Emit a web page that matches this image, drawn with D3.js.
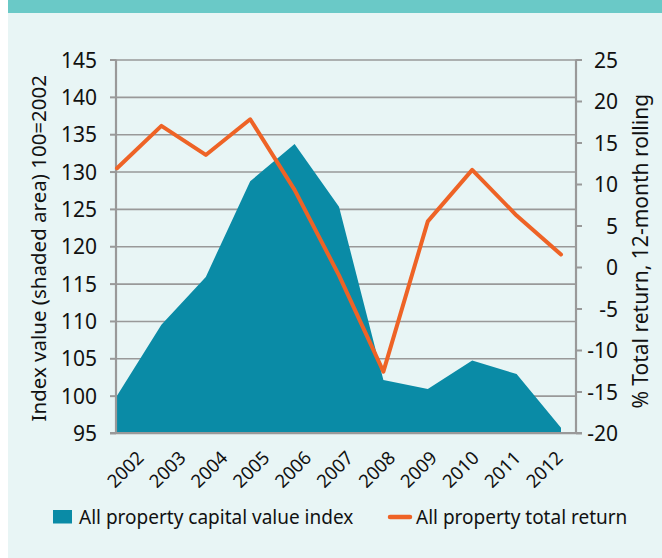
<!DOCTYPE html>
<html lang="en">
<head>
<meta charset="utf-8">
<title>All property capital value index and total return</title>
<script src="https://d3js.org/d3.v7.min.js"></script>
<style>
body { margin: 0; background: #ffffff; }
svg text { font-family: "Noto Sans", "Open Sans", sans-serif; fill: #111; }
.axis path { display: none; }
.axis line { stroke: #999999; stroke-width: 2; }
</style>
</head>
<body>
<div id="chart"></div>
<script>

// chart data
var years = ["2002","2003","2004","2005","2006","2007","2008","2009","2010","2011","2012"];
var capitalIndex = [100, 109.5, 115.9, 128.7, 133.7, 125.3, 102.1, 100.9, 104.7, 102.9, 95.7];
var totalReturn = [11.9, 17.0, 13.5, 17.8, 9.3, -1.0, -12.6, 5.5, 11.7, 6.2, 1.5];
var leftTicks = [95, 100, 105, 110, 115, 120, 125, 130, 135, 140, 145];
var rightTicks = [-20, -15, -10, -5, 0, 5, 10, 15, 20, 25];
var legendLabels = ["All property capital value index", "All property total return"];

var W = 662, H = 558;
var plot = {left: 116, right: 576, top: 59.5, bottom: 433};

var svg = d3.select("#chart").append("svg")
    .attr("width", W)
    .attr("height", H);

// panel background + header strip
svg.append("rect").attr("x", 8).attr("y", 0).attr("width", W - 8).attr("height", H).attr("fill", "#e8f5f5");
svg.append("rect").attr("x", 8).attr("y", 0).attr("width", W - 8).attr("height", 13).attr("fill", "#6ac9c7");

// scales
var x = d3.scalePoint().domain(years).range([117, 561]);
var xLabel = d3.scalePoint().domain(years).range([145, 564]);
var yL = d3.scaleLinear().domain([95, 145]).range([plot.bottom, plot.top]);
var yR = d3.scaleLinear().domain([-20, 25]).range([plot.bottom, plot.top]);

// gridlines
svg.append("g")
    .attr("class", "axis")
    .attr("transform", "translate(" + plot.left + ",0)")
    .call(d3.axisRight(yL).tickValues(leftTicks).tickSize(plot.right - plot.left).tickFormat(""))
    .selectAll("line")
    .style("stroke-width", 1.6);

// shaded area
var area = d3.area()
    .x(function(d, i) { return x(years[i]); })
    .y0(yL(95))
    .y1(function(d) { return yL(d); });

svg.append("path")
    .datum(capitalIndex)
    .attr("d", area)
    .attr("fill", "#0a8ba6");

// axes
var gl = svg.append("g")
    .attr("class", "axis")
    .attr("transform", "translate(" + plot.left + ",0)")
    .call(d3.axisLeft(yL).tickValues(leftTicks).tickSize(6).tickPadding(13));
gl.selectAll("text").style("font-size", "21px").attr("dy", "0.36em");

var gr = svg.append("g")
    .attr("class", "axis")
    .attr("transform", "translate(" + plot.right + ",0)")
    .call(d3.axisRight(yR).tickValues(rightTicks).tickSize(6).tickFormat(function(d) { return String(d); }));
gr.selectAll("text")
    .style("font-size", "21px")
    .attr("dy", "0.36em")
    .attr("text-anchor", "end")
    .attr("x", 42);

// axis frame lines
svg.append("line").attr("x1", plot.left).attr("x2", plot.left).attr("y1", plot.top).attr("y2", plot.bottom)
    .attr("stroke", "#999").attr("stroke-width", 2.2);
svg.append("line").attr("x1", plot.right).attr("x2", plot.right).attr("y1", plot.top).attr("y2", plot.bottom)
    .attr("stroke", "#999").attr("stroke-width", 2.2);
svg.append("line").attr("x1", plot.left - 6).attr("x2", plot.right + 6).attr("y1", plot.bottom).attr("y2", plot.bottom)
    .attr("stroke", "#999").attr("stroke-width", 2.2);

// total return line
var line = d3.line()
    .x(function(d, i) { return x(years[i]); })
    .y(function(d) { return yR(d); });

svg.append("path")
    .datum(totalReturn)
    .attr("d", line)
    .attr("fill", "none")
    .attr("stroke", "#ee6326")
    .attr("stroke-width", 4)
    .attr("stroke-linejoin", "round")
    .attr("stroke-linecap", "round");

// year labels
svg.append("g").selectAll("text")
    .data(years)
    .enter().append("text")
    .attr("transform", function(d) { return "translate(" + xLabel(d) + ",459) rotate(-45)"; })
    .attr("text-anchor", "end")
    .style("font-size", "18.5px")
    .text(function(d) { return d; });

// axis titles
svg.append("text")
    .attr("transform", "translate(46," + ((plot.top + plot.bottom) / 2 + 2) + ") rotate(-90)")
    .attr("text-anchor", "middle")
    .style("font-size", "20.5px")
    .text("Index value (shaded area) 100=2002");

svg.append("text")
    .attr("transform", "translate(648," + ((plot.top + plot.bottom) / 2 + 5) + ") rotate(-90)")
    .attr("text-anchor", "middle")
    .style("font-size", "21px")
    .text("% Total return, 12-month rolling");

// legend
var legend = svg.append("g");
legend.append("rect")
    .attr("x", 53).attr("y", 510).attr("width", 19).attr("height", 13.5)
    .attr("fill", "#0a8ba6");
legend.append("text")
    .attr("x", 79).attr("y", 523.5)
    .style("font-size", "19px")
    .text(legendLabels[0]);
legend.append("line")
    .attr("x1", 390).attr("x2", 410).attr("y1", 517).attr("y2", 517)
    .attr("stroke", "#ee6326").attr("stroke-width", 4.5).attr("stroke-linecap", "round");
legend.append("text")
    .attr("x", 416).attr("y", 523.5)
    .style("font-size", "19px")
    .text(legendLabels[1]);

</script>
</body>
</html>
